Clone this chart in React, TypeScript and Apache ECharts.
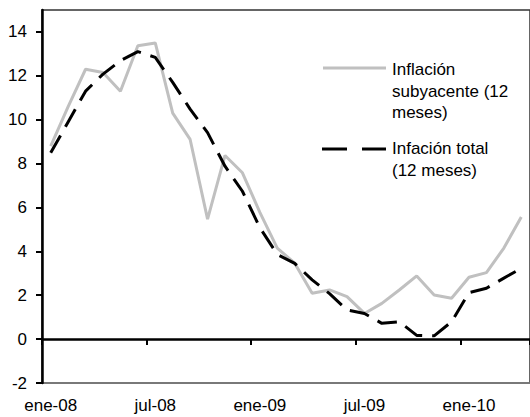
import React, { useEffect, useRef } from "react";
import * as echarts from "echarts";

const categories = [
  "ene-08", "feb-08", "mar-08", "abr-08", "may-08", "jun-08", "jul-08", "ago-08", "sep-08", "oct-08", "nov-08", "dic-08",
  "ene-09", "feb-09", "mar-09", "abr-09", "may-09", "jun-09", "jul-09", "ago-09", "sep-09", "oct-09", "nov-09", "dic-09",
  "ene-10", "feb-10", "mar-10", "abr-10",
];

const coreInflation = [
  8.8, 10.6, 12.3, 12.15, 11.3, 13.37, 13.5, 10.3, 9.1, 5.47, 8.37, 7.58,
  5.78, 4.15, 3.46, 2.09, 2.24, 1.94, 1.17, 1.63, 2.24, 2.88, 2.01, 1.86,
  2.82, 3.03, 4.15, 5.57,
];

const totalInflation = [
  8.49, 9.9, 11.3, 12.08, 12.69, 13.1, 12.84, 11.7, 10.48, 9.41, 7.88, 6.74,
  5.08, 3.86, 3.45, 2.7, 2.07, 1.33, 1.17, 0.72, 0.79, 0.17, 0.15, 0.79,
  2.12, 2.32, 2.78, 3.23,
];

const yTicks = [-2, 0, 2, 4, 6, 8, 10, 12, 14];

const coreName = "Inflación\nsubyacente (12\nmeses)";
const totalName = "Infación total\n(12 meses)";

const FONT = "'Liberation Sans', Arial, sans-serif";

export default function App() {
  const ref = useRef<HTMLDivElement>(null);
  useEffect(() => {
    if (!ref.current) return;
    const chart = echarts.init(ref.current, undefined, { renderer: "svg" });
    chart.setOption({
      animation: false,
      backgroundColor: "#fff",
      textStyle: { fontFamily: FONT },
      grid: {
        left: 42,
        top: 10,
        width: 492,
        height: 373,
        show: true,
        borderColor: "#333",
        borderWidth: 1.5,
      },
      xAxis: [
        {
          type: "category",
          data: categories,
          boundaryGap: true,
          axisLine: { onZero: true, lineStyle: { color: "#000", width: 2.5 } },
          axisTick: { show: true, interval: 5, length: 6, lineStyle: { color: "#000", width: 2 } },
          axisLabel: { show: false },
          splitLine: { show: false },
          z: 5,
        },
        {
          type: "category",
          data: categories,
          boundaryGap: true,
          position: "bottom",
          axisLine: { show: true, onZero: false, lineStyle: { color: "#808080", width: 1.5 } },
          axisTick: { show: false },
          axisLabel: {
            interval: 5,
            margin: 14,
            fontSize: 17,
            color: "#000",
            fontFamily: FONT,
          },
          splitLine: { show: false },
        },
      ],
      yAxis: {
        type: "value",
        min: -2,
        max: 15,
        interval: 2,
        z: 6,
        axisLine: { show: true, onZero: false, lineStyle: { color: "#000", width: 2.5 } },
        axisTick: { show: true, length: 6, customValues: yTicks, lineStyle: { color: "#000", width: 2 } },
        axisLabel: {
          customValues: yTicks,
          margin: 15,
          fontSize: 17,
          color: "#000",
          fontFamily: FONT,
        },
        splitLine: { show: false },
      },
      series: [
        {
          name: "Inflación subyacente (12 meses)",
          type: "line",
          xAxisIndex: 0,
          data: coreInflation,
          showSymbol: false,
          symbol: "none",
          lineStyle: { color: "#c0c0c0", width: 3 },
          z: 2,
        },
        {
          name: "Infación total (12 meses)",
          type: "line",
          xAxisIndex: 0,
          data: totalInflation,
          showSymbol: false,
          symbol: "none",
          lineStyle: { color: "#000", width: 3, type: [20, 10] },
          z: 3,
        },
      ],
      graphic: [
        {
          type: "line",
          shape: { x1: 323, y1: 68, x2: 386, y2: 68 },
          style: { stroke: "#c0c0c0", lineWidth: 3 },
        },
        {
          type: "text",
          x: 392,
          y: 59,
          style: {
            text: coreName,
            fontSize: 17,
            lineHeight: 21.5,
            fontFamily: FONT,
            fill: "#000",
          },
        },
        {
          type: "line",
          shape: { x1: 322, y1: 149, x2: 386, y2: 149 },
          style: { stroke: "#000", lineWidth: 3, lineDash: [25, 15] },
        },
        {
          type: "text",
          x: 392,
          y: 138,
          style: {
            text: totalName,
            fontSize: 17,
            lineHeight: 21.5,
            fontFamily: FONT,
            fill: "#000",
          },
        },
      ],
    });
    return () => chart.dispose();
  }, []);
  return (
    <div
      ref={ref}
      style={{ position: "absolute", left: 0, top: 0, width: 530, height: 417, background: "#fff" }}
    />
  );
}
